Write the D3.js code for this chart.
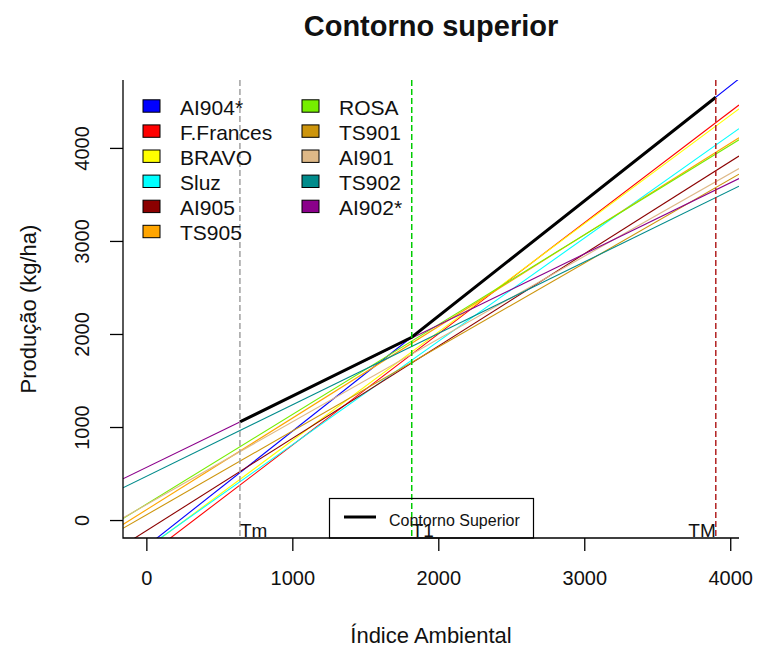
<!DOCTYPE html>
<html lang="en">
<head>
    <meta charset="UTF-8">
    <script src="https://cdnjs.cloudflare.com/ajax/libs/d3/7.8.5/d3.min.js"></script>
    <style>
        body { margin: 0; background: #fff; }
        text { font-family: "Liberation Sans", Arial, sans-serif; fill: #111; }
    </style>
</head>
<body>
<svg id="chart" width="759" height="646"></svg>
<script>
    // genotype regressions: produção = a + b * índice ambiental
    const genotypes = ['AI904*', 'F.Frances', 'BRAVO', 'Sluz', 'AI905', 'TS905',
        'ROSA', 'TS901', 'AI901', 'TS902', 'AI902*'];
    const intercepts = [-284, -390, -310, -300, -115, 110, 170, 55, 165, 470, 565];
    const slopes = [1.238, 1.195, 1.165, 1.110, 0.992, 0.985, 0.965, 0.902, 0.890, 0.768, 0.765];
    const colors = ['#0000ff', '#ff0000', '#ffff00', '#00ffff', '#8b0000', '#ffa500',
        '#76ee00', '#cd950c', '#deb887', '#008b8b', '#8b008b'];

    // upper contour (Tm, T1, TM)
    const contourX = [641, 1818, 3901];
    const contourY = [1055, 1965, 4545];
    const thresholdNames = ['Tm', 'T1', 'TM'];
    const thresholdColors = ['#a0a0a0', '#00cc00', '#b22222'];

    const xTicks = [0, 1000, 2000, 3000, 4000];
    const yTicks = [0, 1000, 2000, 3000, 4000];

    const svg = d3.select('#chart');
    const x = d3.scaleLinear().domain([-160, 4060]).range([123, 739]);
    const y = d3.scaleLinear().domain([-193, 4730]).range([538, 80]);

    svg.append('defs').append('clipPath').attr('id', 'plotClip')
        .append('rect')
        .attr('x', x.range()[0]).attr('y', y.range()[1])
        .attr('width', x.range()[1] - x.range()[0])
        .attr('height', y.range()[0] - y.range()[1]);

    const plot = svg.append('g').attr('clip-path', 'url(#plotClip)');
    const [x0, x1] = x.domain();

    plot.selectAll('line.geno')
        .data(genotypes).enter()
        .append('line')
        .attr('class', 'geno')
        .attr('x1', x(x0))
        .attr('x2', x(x1))
        .attr('y1', (d, i) => y(intercepts[i] + slopes[i] * x0))
        .attr('y2', (d, i) => y(intercepts[i] + slopes[i] * x1))
        .attr('stroke', (d, i) => colors[i])
        .attr('stroke-width', 1.1);

    plot.append('path')
        .datum(contourX.map((v, i) => [v, contourY[i]]))
        .attr('d', d3.line().x(d => x(d[0])).y(d => y(d[1])))
        .attr('fill', 'none')
        .attr('stroke', '#000')
        .attr('stroke-width', 3);

    plot.selectAll('line.thr')
        .data(contourX).enter()
        .append('line')
        .attr('class', 'thr')
        .attr('x1', d => x(d)).attr('x2', d => x(d))
        .attr('y1', y.range()[1]).attr('y2', y.range()[0])
        .attr('stroke', (d, i) => thresholdColors[i])
        .attr('stroke-width', 1.5)
        .attr('stroke-dasharray', '6,3');

    svg.selectAll('text.thr')
        .data(contourX).enter()
        .append('text')
        .attr('class', 'thr')
        .attr('x', d => x(d))
        .attr('y', y.range()[0] - 1)
        .attr('text-anchor', (d, i) => i === 2 ? 'end' : 'start')
        .style('font-size', '19px')
        .text((d, i) => thresholdNames[i]);

    // axes (L-shaped box)
    const xAxis = d3.axisBottom(x).tickValues(xTicks).tickFormat(d3.format('d'))
        .tickSize(13).tickPadding(20);
    const gx = svg.append('g').attr('transform', `translate(0,${y.range()[0]})`).call(xAxis);
    gx.select('.domain').remove();
    gx.selectAll('text').style('font-size', '20px').attr('fill', '#111');

    const yAxis = d3.axisLeft(y).tickValues(yTicks).tickFormat(d3.format('d')).tickSize(13);
    const gy = svg.append('g').attr('transform', `translate(${x.range()[0]},0)`).call(yAxis);
    gy.select('.domain').remove();
    gy.selectAll('text')
        .attr('transform', 'rotate(-90)')
        .attr('x', 0).attr('y', -41).attr('dy', null)
        .attr('text-anchor', 'middle')
        .attr('dominant-baseline', 'central')
        .attr('fill', '#111')
        .style('font-size', '20px');
    svg.selectAll('.tick line').attr('stroke', '#000').attr('stroke-width', 1.3);

    svg.append('path')
        .attr('d', `M${x.range()[0]},${y.range()[1]}V${y.range()[0]}H${x.range()[1]}`)
        .attr('fill', 'none')
        .attr('stroke', '#000')
        .attr('stroke-width', 1.3);

    svg.append('text')
        .attr('x', (x.range()[0] + x.range()[1]) / 2).attr('y', 26)
        .attr('text-anchor', 'middle').attr('dominant-baseline', 'central')
        .style('font-size', '29px').style('font-weight', 'bold')
        .text('Contorno superior');

    svg.append('text')
        .attr('x', (x.range()[0] + x.range()[1]) / 2).attr('y', 635)
        .attr('text-anchor', 'middle').attr('dominant-baseline', 'central')
        .style('font-size', '22px')
        .text('Índice Ambiental');

    svg.append('text')
        .attr('transform', `translate(28,${(y.range()[0] + y.range()[1]) / 2}) rotate(-90)`)
        .attr('text-anchor', 'middle').attr('dominant-baseline', 'central')
        .style('font-size', '22px')
        .text('Produção (kg/ha)');

    // genotype legend, two columns
    const legend = svg.append('g');
    const rows = legend.selectAll('g')
        .data(genotypes).enter()
        .append('g')
        .attr('transform', (d, i) => {
            const col = i < 6 ? 0 : 1;
            const row = i < 6 ? i : i - 6;
            return `translate(${143 + col * 159},${106 + row * 25.1})`;
        });
    rows.append('rect')
        .attr('x', 0).attr('y', -6.2)
        .attr('width', 17).attr('height', 12.4)
        .attr('fill', (d, i) => colors[i])
        .attr('stroke', '#000').attr('stroke-width', 1);
    rows.append('text')
        .attr('x', 37).attr('y', 1)
        .attr('dominant-baseline', 'central')
        .style('font-size', '21px')
        .text(d => d);

    // contour legend
    const leg2 = svg.append('g');
    leg2.append('rect')
        .attr('x', 329.5).attr('y', 498.5).attr('width', 204).attr('height', 39.5)
        .attr('fill', 'none').attr('stroke', '#000').attr('stroke-width', 1.2);
    leg2.append('line')
        .attr('x1', 344).attr('x2', 376).attr('y1', 517).attr('y2', 517)
        .attr('stroke', '#000').attr('stroke-width', 3);
    leg2.append('text')
        .attr('x', 389).attr('y', 520)
        .attr('dominant-baseline', 'central')
        .style('font-size', '16px')
        .text('Contorno Superior');
</script>
</body>
</html>
